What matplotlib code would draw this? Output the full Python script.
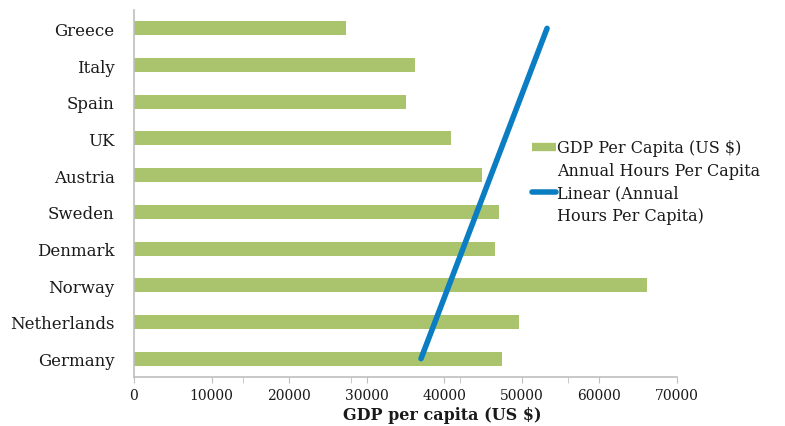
import numpy as np
import matplotlib
matplotlib.use("Agg")
import matplotlib.pyplot as plt
from matplotlib.lines import Line2D

# Data
countries = ["Germany", "Netherlands", "Norway", "Denmark", "Sweden",
             "Austria", "UK", "Spain", "Italy", "Greece"]
gdp = [47400, 49600, 66100, 46500, 47000, 44800, 40900, 35100, 36200, 27300]

# linear trend of annual hours (drawn against the GDP axis), ends at Germany / Greece
trend_x = [37000, 53250]
trend_y = [0, len(countries) - 1]

xticks = [0, 10000, 20000, 30000, 40000, 50000, 60000, 70000]
minor_ticks = [14000, 28000, 42000, 56000]

plt.rcParams['font.family'] = ['DejaVu Serif']

fig = plt.figure(figsize=(7.85, 4.27), dpi=100)
ax = fig.add_axes([0.1707, 0.1148, 0.6917, 0.8594])

ypos = np.arange(len(countries))
bar_color = "#A9C46D"
line_color = "#0B7EC3"

ax.barh(ypos, gdp, height=0.38, color=bar_color, zorder=2)
ax.plot(trend_x, trend_y, color=line_color, lw=4, solid_capstyle="round", zorder=3)

ax.set_xlim(0, 70000)
ax.set_ylim(-0.5, len(countries) - 0.5)
ax.set_yticks(ypos)
ax.set_yticklabels(countries, fontsize=12, color="#1a1a1a")
ax.set_xticks(xticks)
ax.set_xticklabels([str(v) for v in xticks], fontsize=10, color="#1a1a1a")
ax.set_xticks(minor_ticks, minor=True)

for side in ["top", "right"]:
    ax.spines[side].set_visible(False)
for side in ["left", "bottom"]:
    ax.spines[side].set_color("#bfbfbf")
    ax.spines[side].set_linewidth(1.2)
ax.tick_params(axis="y", length=0, pad=14)
ax.tick_params(axis="x", which="both", length=4, color="#bfbfbf", pad=4)

fig.text(0.563, 0.026, "GDP per capita (US $)", fontsize=11.5, fontweight="bold",
         ha="center", va="center", color="#1a1a1a")

handles = [
    Line2D([], [], color=bar_color, lw=6, solid_capstyle="butt"),
    Line2D([], [], color="none"),
    Line2D([], [], color=line_color, lw=4, solid_capstyle="round"),
    Line2D([], [], color="none"),
]
labels = ["GDP Per Capita (US $)", "Annual Hours Per Capita",
          "Linear (Annual", "Hours Per Capita)"]
leg = fig.legend(handles, labels, loc="upper left", bbox_to_anchor=(0.669, 0.686),
                 frameon=False, fontsize=11.5, handlelength=1.55, handletextpad=0.05,
                 labelspacing=0.34, borderaxespad=0)
for t in leg.get_texts():
    t.set_color("#1a1a1a")

fig.savefig("out.png", dpi=100)
